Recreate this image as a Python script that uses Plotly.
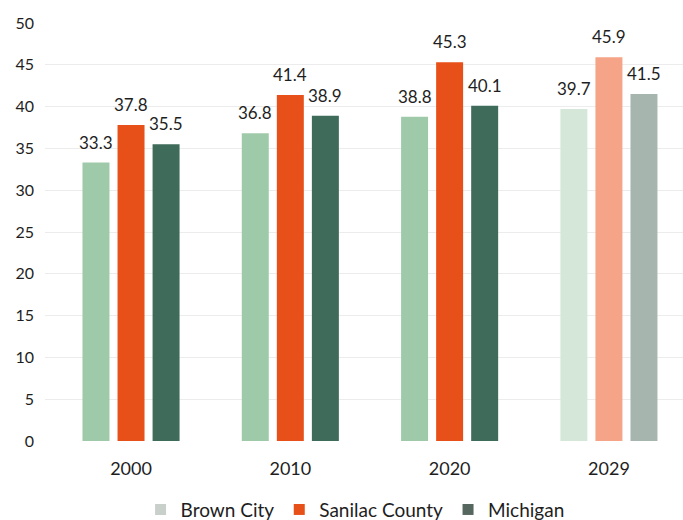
import plotly.graph_objects as go

years = ["2000", "2010", "2020", "2029"]
brown_city = [33.3, 36.8, 38.8, 39.7]
sanilac = [37.8, 41.4, 45.3, 45.9]
michigan = [35.5, 38.9, 40.1, 41.5]

series = [
    ("Brown City", brown_city, ["#9fcaa9", "#9fcaa9", "#9fcaa9", "#d4e7d8"], "#c9cfcb"),
    ("Sanilac County", sanilac, ["#e8501a", "#e8501a", "#e8501a", "#f5a487"], "#e8501a"),
    ("Michigan", michigan, ["#3e6b5a", "#3e6b5a", "#3e6b5a", "#a6b6af"], "#56675f"),
]

BARGAP = 0.34
GROUPGAP = 0.23
slot = (1 - BARGAP) / len(series)

fig = go.Figure()
annotations = []
for i, (name, vals, cols, legcol) in enumerate(series):
    fig.add_trace(go.Bar(
        x=years, y=vals, name=name, showlegend=False,
        marker=dict(color=cols, line=dict(width=0)),
    ))
    off = (i - (len(series) - 1) / 2) * slot
    for j, v in enumerate(vals):
        annotations.append(dict(
            x=j + off, y=v, xref="x", yref="y", text=f"{v:.1f}",
            showarrow=False, yanchor="bottom", yshift=8,
            font=dict(size=17, color="#1e1e1e", family="Lato"),
        ))

for name, vals, cols, legcol in series:
    fig.add_trace(go.Scatter(
        x=[None], y=[None], name=name, mode="markers", showlegend=True,
        marker=dict(color=legcol, symbol="square", size=11),
    ))

fig.update_layout(
    width=683, height=520,
    margin=dict(l=45, r=0, t=23, b=79),
    paper_bgcolor="white", plot_bgcolor="white",
    barmode="group", bargap=BARGAP, bargroupgap=GROUPGAP,
    font=dict(family="Lato", size=16, color="#1e1e1e"),
    showlegend=True,
    legend=dict(orientation="h", x=0.486, xanchor="center", yref="container",
                y=0.02, yanchor="middle", font=dict(size=19, color="#1e1e1e"),
                itemwidth=30, traceorder="normal"),
    annotations=annotations,
    xaxis=dict(range=[-0.54, 3.465], showgrid=False, showline=False, ticks="",
               tickfont=dict(size=18), ticklabelstandoff=15),
    yaxis=dict(range=[0, 50], dtick=5, showgrid=True, gridcolor="#ececec", gridwidth=1,
               zeroline=False, showline=False, tickfont=dict(size=16),
               ticklabelstandoff=10),
)

fig.write_html("out.html")
